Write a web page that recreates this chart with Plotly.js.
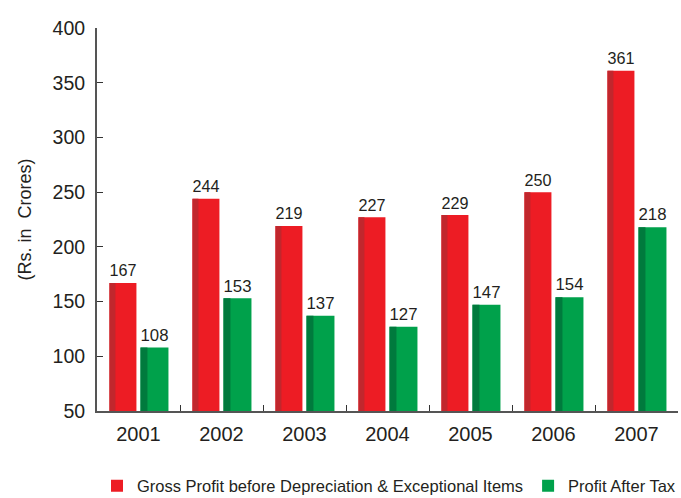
<!DOCTYPE html>
<html><head><meta charset="utf-8">
<script src="https://cdn.plot.ly/plotly-3.0.1.min.js"></script>
<style>html,body{margin:0;padding:0;background:#fff}#c{width:681px;height:498px}</style>
</head><body><div id="c"></div>
<script>
const years = ['2001','2002','2003','2004','2005','2006','2007'];
const grossProfit = [167, 244, 219, 227, 229, 250, 361];
const profitAfterTax = [108, 153, 137, 127, 147, 154, 218];
const seriesNames = ['Gross Profit before Depreciation & Exceptional Items', 'Profit After Tax'];
const yTicks = [50, 100, 150, 200, 250, 300, 350, 400];

const font = 'Liberation Sans, Arial, Helvetica, sans-serif';
const ink = '#231f20';
const red = '#ed1c24', redDark = '#c1272d', green = '#00a14b', greenDark = '#007a3d';

const traces = [
  {type:'bar', x:years, y:grossProfit, name:seriesNames[0], showlegend:true, offset:-0.35, width:0.325,
   marker:{color:red}, text:grossProfit.map(String), textposition:'outside', cliponaxis:false,
   textfont:{family:font,size:18,color:ink}, hoverinfo:'x+y'},
  {type:'bar', x:years, y:grossProfit, showlegend:false, offset:-0.35, width:0.072,
   marker:{color:redDark}, hoverinfo:'skip'},
  {type:'bar', x:years, y:profitAfterTax, name:seriesNames[1], showlegend:true, offset:0.024, width:0.337,
   marker:{color:green}, text:profitAfterTax.map(String), textposition:'outside', cliponaxis:false,
   textfont:{family:font,size:18,color:ink}, hoverinfo:'x+y'},
  {type:'bar', x:years, y:profitAfterTax, showlegend:false, offset:0.024, width:0.084,
   marker:{color:greenDark}, hoverinfo:'skip'}
];

const layout = {
  width:681, height:498,
  margin:{l:97, r:3, t:28, b:87, autoexpand:false},
  paper_bgcolor:'#fff', plot_bgcolor:'#fff',
  barmode:'overlay',
  font:{family:font, color:ink},
  showlegend:true,
  legend:{orientation:'h', xref:'container', x:1, xanchor:'right', yref:'container', y:0.024, yanchor:'middle',
          bgcolor:'rgba(0,0,0,0)',
          font:{family:font, size:16.5, color:ink}, traceorder:'normal', itemwidth:30},
  xaxis:{type:'category', tickson:'boundaries', ticks:'inside', ticklen:6, tickwidth:1, tickcolor:'#333',
         showline:true, linecolor:'#555', linewidth:2, showgrid:false,
         tickfont:{family:font, size:20, color:ink}, ticklabelstandoff:4, fixedrange:true},
  yaxis:{range:[50,400], tickvals:yTicks, ticks:'inside', ticklen:6, tickwidth:1, tickcolor:'#333',
         showline:true, linecolor:'#555', linewidth:2, showgrid:false, zeroline:false,
         tickfont:{family:font, size:19.5, color:ink}, ticklabelstandoff:6,
         title:{text:'(Rs. in  Crores)', font:{family:font, size:18, color:ink}, standoff:16}}
};

Plotly.newPlot('c', traces, layout, {displayModeBar:false, staticPlot:true});
</script></body></html>
